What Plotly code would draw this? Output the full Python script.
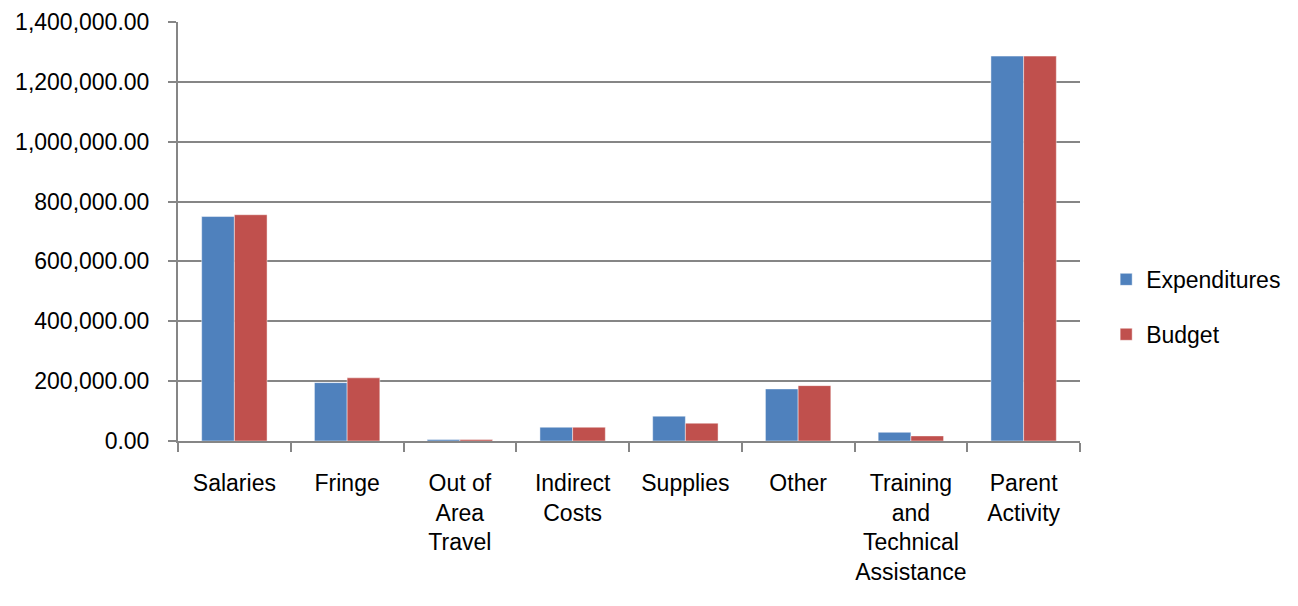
import plotly.graph_objects as go

categories = ["Salaries", "Fringe", "Out of<br>Area<br>Travel", "Indirect<br>Costs", "Supplies",
              "Other", "Training<br>and<br>Technical<br>Assistance", "Parent<br>Activity"]
expenditures = [750000, 195000, 5000, 46000, 83000, 174000, 29000, 1286000]
budget = [756000, 211000, 5000, 46000, 59500, 185000, 17000, 1286000]
y_ticks = [0, 200000, 400000, 600000, 800000, 1000000, 1200000, 1400000]

FONT = "Liberation Sans"
GRID = "#868686"

fig = go.Figure()
fig.add_trace(go.Bar(name="Expenditures", x=categories, y=expenditures,
                     marker=dict(color="#4F81BD", line=dict(color="rgba(255,255,255,0.45)", width=1)),
                     legendgroup="a"))
fig.add_trace(go.Bar(name="Budget", x=categories, y=budget,
                     marker=dict(color="#C0504D", line=dict(color="rgba(255,255,255,0.45)", width=1)),
                     legendgroup="b"))

fig.update_layout(
    width=1290, height=598,
    margin=dict(l=170, r=218, t=14, b=165),
    paper_bgcolor="white", plot_bgcolor="white",
    barmode="group", bargap=0.42, bargroupgap=0,
    font=dict(family=FONT, size=23, color="#000000"),
    showlegend=True,
    legend=dict(x=1.029, y=0.32, xanchor="left", yanchor="middle",
                traceorder="grouped", tracegroupgap=22,
                font=dict(family=FONT, size=23), itemwidth=30),
    xaxis=dict(type="category", showgrid=False, showline=True, linecolor=GRID, linewidth=2,
               ticks="outside", tickson="boundaries", ticklen=9, tickcolor=GRID, tickwidth=2,
               ticklabelstandoff=20,
               tickfont=dict(family=FONT, size=23), tickangle=0, automargin=False),
    yaxis=dict(range=[0, 1400000], tickvals=y_ticks, tickformat=",.2f",
               showgrid=True, gridcolor=GRID, gridwidth=2,
               showline=True, linecolor=GRID, linewidth=2,
               ticks="outside", ticklen=8, tickcolor=GRID, tickwidth=2,
               ticklabelstandoff=14, zeroline=False, automargin=False,
               ticklabeloverflow="allow",
               tickfont=dict(family=FONT, size=23)),
)

fig.write_html("out.html")
